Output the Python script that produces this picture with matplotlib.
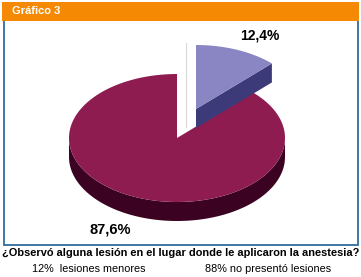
import numpy as np
import matplotlib
matplotlib.use('Agg')
import matplotlib.pyplot as plt
from matplotlib.patches import Polygon, Rectangle

# data
labels = ['lesiones menores', 'no presentó lesiones']
values = [12.4, 87.6]
pct_text = ['12,4%', '87,6%']
legend_pct = ['12%', '88%']
question = '¿Observó alguna lesión en el lugar donde le aplicaron la anestesia?'
title = 'Gráfico 3'

top_colors = ['#8a86c4', '#8f1c51']
side_colors = ['#3d3a79', '#3b0321']

plt.rcParams['font.family'] = ['Liberation Sans', 'DejaVu Sans']

W, H = 361, 277
fig = plt.figure(figsize=(W / 100, H / 100), dpi=100)
ax = fig.add_axes([0, 0, 1, 1])
ax.set_xlim(0, W)
ax.set_ylim(H, 0)
ax.axis('off')

# frame + header
ax.add_patch(Rectangle((3.5, 15), 354.5, 230, fill=False, ec='#2f6d9c', lw=1.3))
ax.add_patch(Rectangle((2, 2), 357, 19, fc='#f68904', ec='none'))
ax.text(12, 11.5, title, color='white', fontsize=8, fontweight='bold', va='center')

# 3d pie, angles clockwise from 12 o'clock
cx, cy, rx, ry, depth = 177, 138, 108, 64, 19
explode = [(19, -29), (0, 0)]


def pt(a, x0, y0):
    t = np.radians(a)
    return x0 + rx * np.sin(t), y0 - ry * np.cos(t)


def arc(a0, a1, x0, y0, n=150):
    t = np.radians(np.linspace(a0, a1, n))
    return x0 + rx * np.sin(t), y0 - ry * np.cos(t)


bounds = np.concatenate([[0], np.cumsum(values) / np.sum(values) * 360])
order = [1, 0]
for i in order:
    a0, a1 = bounds[i], bounds[i + 1]
    x0, y0 = cx + explode[i][0], cy + explode[i][1]
    # outer wall (front half only)
    lo, hi = max(a0, 90), min(a1, 270)
    if hi > lo:
        xs, ys = arc(lo, hi, x0, y0)
        poly = np.column_stack([np.r_[xs, xs[::-1]], np.r_[ys, ys[::-1] + depth]])
        ax.add_patch(Polygon(poly, closed=True, fc=side_colors[i], ec='none'))
    # cut face at end angle, visible when it faces down
    if -np.cos(np.radians(a1 + 90)) > 0 and a1 < 360:
        ex, ey = pt(a1, x0, y0)
        quad = [(x0, y0), (ex, ey), (ex, ey + depth), (x0, y0 + depth)]
        ax.add_patch(Polygon(quad, closed=True, fc=side_colors[i], ec='none'))
    # top face
    xs, ys = arc(a0, a1, x0, y0)
    poly = np.column_stack([np.r_[x0, xs], np.r_[y0, ys]])
    ax.add_patch(Polygon(poly, closed=True, fc=top_colors[i], ec='none'))

# thin edge of the gap
gx = cx + explode[0][0] * 0.47
ax.plot([gx, gx], [cy - ry + explode[0][1] - 2, cy + explode[0][1] + depth - 1],
        color='#d8d8d8', lw=0.8)

ax.text(260, 35, pct_text[0], fontsize=10, fontweight='bold', ha='center', va='center')
ax.text(110, 230, pct_text[1], fontsize=10.5, fontweight='bold', ha='center', va='center')

ax.text(180.5, 253, question, fontsize=7.95, fontweight='bold', ha='center', va='center')
ax.text(32, 269.5, legend_pct[0] + '  ' + labels[0], fontsize=7.8, va='center')
ax.text(205, 269.5, legend_pct[1] + ' ' + labels[1], fontsize=7.8, va='center')

fig.savefig('out.png', dpi=100)
